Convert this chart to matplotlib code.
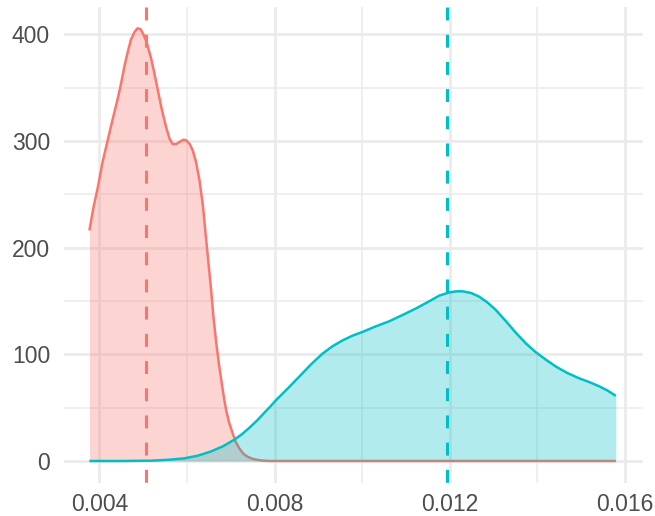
import matplotlib
matplotlib.use("Agg")
import matplotlib.pyplot as plt

# density curves
red_x = [0.00377, 0.00386, 0.00396, 0.00407, 0.00419, 0.00430, 0.00442, 0.00450,
         0.00457, 0.00465, 0.00472, 0.00480, 0.00487, 0.00494, 0.00500, 0.00508,
         0.00518, 0.00525, 0.00533, 0.00542, 0.00552, 0.00560, 0.00567, 0.00575,
         0.00583, 0.00591, 0.00598, 0.00606, 0.00613, 0.00620, 0.00628, 0.00636,
         0.00643, 0.00649, 0.00655, 0.00660, 0.00666, 0.00672, 0.00678, 0.00684,
         0.00689, 0.00696, 0.00704, 0.00711, 0.00719, 0.00728, 0.00738, 0.00750,
         0.00761, 0.00775, 0.00790, 0.01579]
red_y = [216, 237, 256, 280, 301, 320, 340, 355,
         370, 384, 395, 402, 405.5, 404.5, 400, 392,
         377, 364, 348, 330, 313, 302, 297, 297,
         299, 301, 300.5, 297, 291, 281, 264, 240,
         210, 185, 160, 136, 113, 93, 76, 60,
         48, 36, 26, 18, 12, 7, 4, 2,
         1, 0.3, 0, 0]

teal_x = [0.00377, 0.00450, 0.00518, 0.00560, 0.00594, 0.00625, 0.00655, 0.00683,
          0.00708, 0.00725, 0.00742, 0.00760, 0.00776, 0.00790, 0.00803, 0.00830,
          0.00856, 0.00883, 0.00909, 0.00932, 0.00955, 0.00978, 0.01001, 0.01030,
          0.01062, 0.01093, 0.01123, 0.01150, 0.01176, 0.01199, 0.01215, 0.01229,
          0.01248, 0.01267, 0.01286, 0.01305, 0.01328, 0.01351, 0.01374, 0.01396,
          0.01419, 0.01442, 0.01468, 0.01495, 0.01518, 0.01541, 0.01560, 0.01579]
teal_y = [0, 0, 0.3, 1.2, 2.5, 5, 9, 14,
          20, 25, 31, 38, 45, 51, 57, 68,
          79, 90.5, 100.5, 107.5, 113, 117.5, 121, 126,
          131, 137, 143, 149, 155, 158, 159, 159,
          157.5, 154, 148.5, 141.5, 131, 120, 110, 102,
          95, 88.5, 82.5, 77.5, 74, 70, 66, 61]

red_mean = 0.005066
teal_mean = 0.011945

x_ticks = [0.004, 0.008, 0.012, 0.016]
x_labels = ["0.004", "0.008", "0.012", "0.016"]
x_minor = [0.006, 0.010, 0.014]
y_ticks = [0, 100, 200, 300, 400]
y_minor = [50, 150, 250, 350]

RED = "#F8766D"
TEAL = "#00BFC4"
GRID = "#EBEBEB"

plt.rcParams["font.family"] = ["Liberation Sans", "DejaVu Sans"]

fig = plt.figure(figsize=(6.55, 5.16), dpi=100)
ax = fig.add_axes([64 / 655, 33.4 / 516, 579 / 655, 475.4 / 516])

ax.set_xlim(0.00319, 0.01641)
ax.set_ylim(-20.25, 425.25)

# grid
for v in x_minor:
    ax.axvline(v, color=GRID, lw=1.1, zorder=0)
for v in y_minor:
    ax.axhline(v, color=GRID, lw=1.1, zorder=0)
for v in x_ticks:
    ax.axvline(v, color=GRID, lw=2.0, zorder=0)
for v in y_ticks:
    ax.axhline(v, color=GRID, lw=2.0, zorder=0)

# densities: fill then upper outline, red first
ax.fill_between(red_x, 0, red_y, color=RED, alpha=0.3, lw=0, zorder=2)
ax.plot(red_x, red_y, color=RED, lw=1.8, zorder=3, solid_capstyle="butt")
ax.fill_between(teal_x, 0, teal_y, color=TEAL, alpha=0.3, lw=0, zorder=4)
ax.plot(teal_x, teal_y, color=TEAL, lw=1.8, zorder=5, solid_capstyle="butt")

# mean lines, drawn from the top down
trans = ax.get_xaxis_transform()
ax.plot([red_mean, red_mean], [1, 0], transform=trans, color=RED, lw=2.2,
        dashes=(4.25, 4.65), zorder=6)
ax.plot([teal_mean, teal_mean], [1, 0], transform=trans, color=TEAL, lw=2.2,
        dashes=(4.25, 4.65), zorder=7)

ax.set_xticks(x_ticks)
ax.set_xticklabels(x_labels)
ax.set_yticks(y_ticks)
ax.tick_params(length=0, labelsize=16.5, labelcolor="#4D4D4D")
ax.tick_params(axis="x", pad=7.5)
ax.tick_params(axis="y", pad=10)
for s in ax.spines.values():
    s.set_visible(False)

fig.savefig("out.png", dpi=100)
